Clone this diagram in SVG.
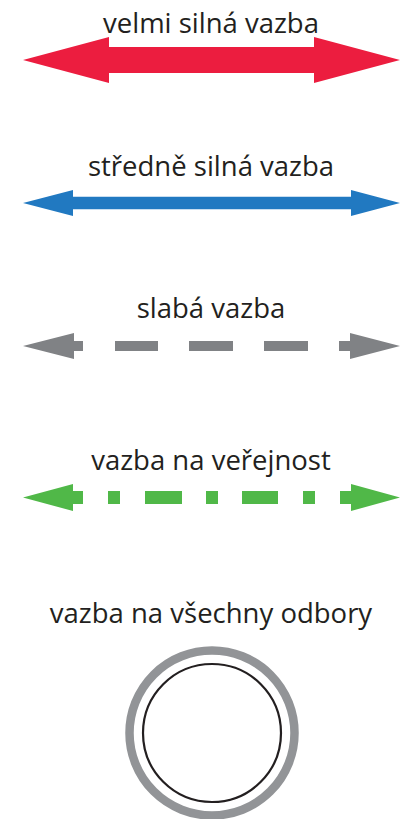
<svg xmlns="http://www.w3.org/2000/svg" width="401" height="819" viewBox="0 0 401 819">
  <style>
    .label { font-family: "Open Sans", "Liberation Sans", sans-serif; font-size: 27.5px; fill: #231F20; text-anchor: middle; }
  </style>
  <rect width="401" height="819" fill="#FFFFFF"/>

  <g id="very-strong">
    <text class="label" x="211" y="33">velmi silná vazba</text>
    <polygon fill="#EC1D3F" points="23,60 109,37 109,47 314,47 314,37 400,60 314,83 314,73 109,73 109,83"/>
  </g>

  <g id="medium">
    <text class="label" x="211" y="176">středně silná vazba</text>
    <polygon fill="#2179C1" points="23,203 73,190 73,196.7 351,196.7 351,190 400,203 351,216 351,209.3 73,209.3 73,216"/>
  </g>

  <g id="weak" fill="#808285">
    <text class="label" x="211" y="318">slabá vazba</text>
    <polygon points="23,346 74,333 74,341 83,341 83,351 74,351 74,359"/>
    <rect x="115" y="341" width="43" height="10"/>
    <rect x="189" y="341" width="44" height="10"/>
    <rect x="264" y="341" width="44" height="10"/>
    <polygon points="400,346 350,333 350,341 339,341 339,351 350,351 350,359"/>
  </g>

  <g id="public" fill="#50B848">
    <text class="label" x="211" y="470">vazba na veřejnost</text>
    <polygon points="23,497.5 73,484 73,491 83,491 83,504 73,504 73,511"/>
    <rect x="108" y="491" width="12" height="13"/>
    <rect x="145" y="491" width="37" height="13"/>
    <rect x="206" y="491" width="12" height="13"/>
    <rect x="242" y="491" width="36" height="13"/>
    <rect x="303" y="491" width="12" height="13"/>
    <polygon points="400,497.5 351,484 351,491 340,491 340,504 351,504 351,511"/>
  </g>

  <g id="all-departments">
    <text class="label" x="211" y="623">vazba na všechny odbory</text>
    <circle cx="212" cy="733" r="82.5" fill="none" stroke="#929497" stroke-width="8.5"/>
    <circle cx="212" cy="733" r="69" fill="none" stroke="#231F20" stroke-width="2.2"/>
  </g>
</svg>
